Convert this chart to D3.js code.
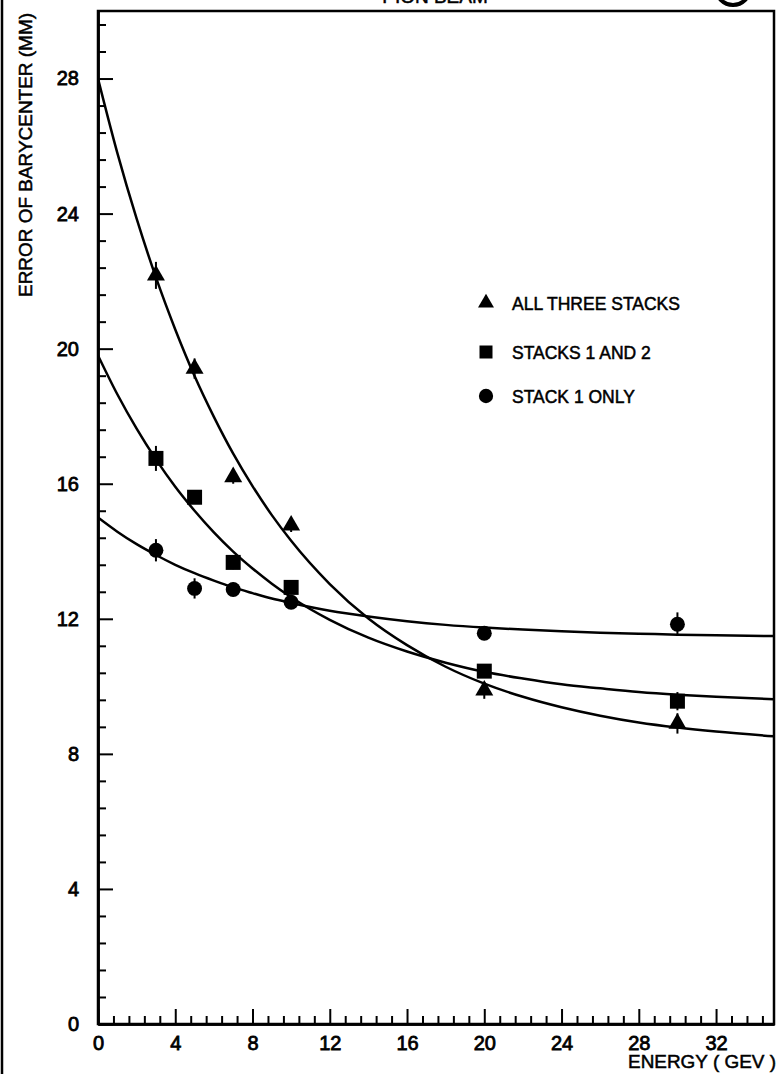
<!DOCTYPE html>
<html>
<head>
<meta charset="utf-8">
<script src="https://cdn.jsdelivr.net/npm/d3@7"></script>
<style>
  body { margin: 0; background: #fff; }
  svg { display: block; font-family: "Liberation Sans", Arial, sans-serif; }
  text { stroke: #000; stroke-width: 0.5px; }
</style>
</head>
<body>
<div id="chart"></div>
<script>
// measured points
const energies = [3, 5, 7, 10, 20, 30];
const allThree = [22.17, 19.41, 16.2, 14.77, 9.88, 8.9];
const allThreeErr = [0.4, 0.3, 0.2, 0.2, 0.25, 0.3];
const stacks12 = [16.75, 15.6, 13.67, 12.93, 10.45, 9.56];
const stacks12Err = [0.37, 0.2, 0.2, 0.2, 0.2, 0.27];
const stack1 = [14.03, 12.9, 12.87, 12.49, 11.57, 11.84];
const stack1Err = [0.33, 0.3, 0.2, 0.2, 0.2, 0.35];

// fitted curves
const curveX = [0, 1, 2, 3, 4, 5, 6, 7, 8, 9, 10, 12, 14, 16, 18, 20, 22, 24, 26, 28, 30, 32, 35];
const allThreeFit = [28.0, 25.8, 23.85, 22.11, 20.57, 19.19, 17.98, 16.89, 15.93, 15.07, 14.31, 13.03, 12.01, 11.22, 10.58, 10.08, 9.69, 9.38, 9.13, 8.93, 8.78, 8.66, 8.52];
const stacks12Fit = [19.8, 18.65, 17.63, 16.72, 15.91, 15.2, 14.56, 13.99, 13.49, 13.04, 12.64, 11.97, 11.44, 11.03, 10.7, 10.43, 10.23, 10.06, 9.94, 9.83, 9.75, 9.69, 9.62];
const stack1Fit = [15.0, 14.58, 14.21, 13.89, 13.6, 13.35, 13.13, 12.93, 12.76, 12.6, 12.47, 12.24, 12.07, 11.93, 11.82, 11.74, 11.68, 11.63, 11.59, 11.56, 11.53, 11.51, 11.49];

// axes
const xTicks = [0, 4, 8, 12, 16, 20, 24, 28, 32];
const yTicks = [0, 4, 8, 12, 16, 20, 24, 28];
const minorStep = 0.8;

const legendLabels = ["ALL THREE STACKS", "STACKS 1 AND 2", "STACK 1 ONLY"];

const width = 779, height = 1074;
const svg = d3.select("#chart").append("svg")
  .attr("width", width)
  .attr("height", height);

const x = d3.scaleLinear().domain([0, 35]).range([98, 774]);
const y = d3.scaleLinear().domain([0, 30]).range([1024, 11]);

// page edge + cut-off header
svg.append("line")
  .attr("x1", 2).attr("x2", 2).attr("y1", 0).attr("y2", height)
  .attr("stroke", "#000").attr("stroke-width", 2.5);

svg.append("text")
  .attr("x", 435).attr("y", 3)
  .attr("text-anchor", "middle")
  .attr("font-size", 19)
  .text("PION BEAM");

svg.append("circle")
  .attr("cx", 733).attr("cy", -12).attr("r", 17)
  .attr("fill", "none").attr("stroke", "#000").attr("stroke-width", 4);

// minor ticks
const yMinor = d3.range(minorStep, 30, minorStep).filter((d, i) => (i + 1) % 5 !== 0);
const xMinor = d3.range(minorStep, 35, minorStep).filter((d, i) => (i + 1) % 5 !== 0);

const yMinorAxis = d3.axisRight(y).tickValues(yMinor).tickSize(8).tickSizeOuter(0).tickFormat("");
const yMajorAxis = d3.axisLeft(y).tickValues(yTicks).tickSizeInner(-15).tickSizeOuter(0).tickPadding(19);
const xMinorAxis = d3.axisTop(x).tickValues(xMinor).tickSize(8).tickSizeOuter(0).tickFormat("");
const xMajorAxis = d3.axisBottom(x).tickValues(xTicks).tickSizeInner(-15).tickSizeOuter(0).tickPadding(12);

const gy1 = svg.append("g").attr("transform", "translate(98,0)").call(yMinorAxis);
const gy2 = svg.append("g").attr("transform", "translate(98,0)").call(yMajorAxis);
const gx1 = svg.append("g").attr("transform", "translate(0,1024)").call(xMinorAxis);
const gx2 = svg.append("g").attr("transform", "translate(0,1024)").call(xMajorAxis);

[gy1, gy2, gx1, gx2].forEach(g => {
  g.selectAll("line").attr("stroke", "#000").attr("stroke-width", 2);
  g.select(".domain").attr("stroke", "#000").attr("stroke-width", 2.5);
  g.selectAll("text")
    .attr("fill", "#000")
    .attr("font-size", 20)
    .attr("font-family", "'Liberation Sans', Arial, sans-serif")
    .style("stroke-width", "0.8px");
});
gx2.selectAll("text").attr("dy", "0.71em");

// frame
svg.append("rect")
  .attr("x", x(0)).attr("y", y(30))
  .attr("width", x(35) - x(0)).attr("height", y(0) - y(30))
  .attr("fill", "none").attr("stroke", "#000").attr("stroke-width", 2.5);

// axis titles
svg.append("text")
  .attr("transform", "translate(32,155) rotate(-90)")
  .attr("text-anchor", "middle")
  .attr("font-size", 19)
  .attr("textLength", 284)
  .attr("lengthAdjust", "spacingAndGlyphs")
  .text("ERROR OF BARYCENTER (MM)");

svg.append("text")
  .attr("x", 776).attr("y", 1068)
  .attr("text-anchor", "end")
  .attr("font-size", 19)
  .attr("textLength", 148)
  .attr("lengthAdjust", "spacingAndGlyphs")
  .text("ENERGY ( GEV )");

// fit curves
const clip = svg.append("clipPath").attr("id", "plot")
  .append("rect")
  .attr("x", x(0)).attr("y", y(30))
  .attr("width", x(35) - x(0)).attr("height", y(0) - y(30));

const line = d3.line()
  .x((d, i) => x(curveX[i]))
  .y(d => y(d))
  .curve(d3.curveMonotoneX);

[allThreeFit, stacks12Fit, stack1Fit].forEach(fit => {
  svg.append("path")
    .attr("d", line(fit))
    .attr("clip-path", "url(#plot)")
    .attr("fill", "none")
    .attr("stroke", "#000")
    .attr("stroke-width", 2.5);
});

// points
const series = [
  { vals: allThree, err: allThreeErr, sym: d3.symbolTriangle, size: 140 },
  { vals: stacks12, err: stacks12Err, sym: d3.symbolSquare, size: 225 },
  { vals: stack1, err: stack1Err, sym: d3.symbolCircle, size: 175 }
];

series.forEach(s => {
  const g = svg.append("g");
  g.selectAll("line.err")
    .data(energies)
    .enter().append("line")
    .attr("class", "err")
    .attr("x1", d => x(d)).attr("x2", d => x(d))
    .attr("y1", (d, i) => y(s.vals[i] - s.err[i]))
    .attr("y2", (d, i) => y(s.vals[i] + s.err[i]))
    .attr("stroke", "#000").attr("stroke-width", 2);
  g.selectAll("path")
    .data(energies)
    .enter().append("path")
    .attr("d", d3.symbol().type(s.sym).size(s.size))
    .attr("transform", (d, i) => `translate(${x(d)},${y(s.vals[i])})`)
    .attr("fill", "#000");
});

// legend
const legendY = [303, 352, 396];
legendLabels.forEach((label, i) => {
  svg.append("path")
    .attr("d", d3.symbol().type(series[i].sym).size(i === 0 ? 110 : (i === 1 ? 169 : 160)))
    .attr("transform", `translate(486,${legendY[i]})`)
    .attr("fill", "#000");
  svg.append("text")
    .attr("x", 512).attr("y", legendY[i] + 6.5)
    .attr("font-size", 17.5)
    .text(label);
});
</script>
</body>
</html>
